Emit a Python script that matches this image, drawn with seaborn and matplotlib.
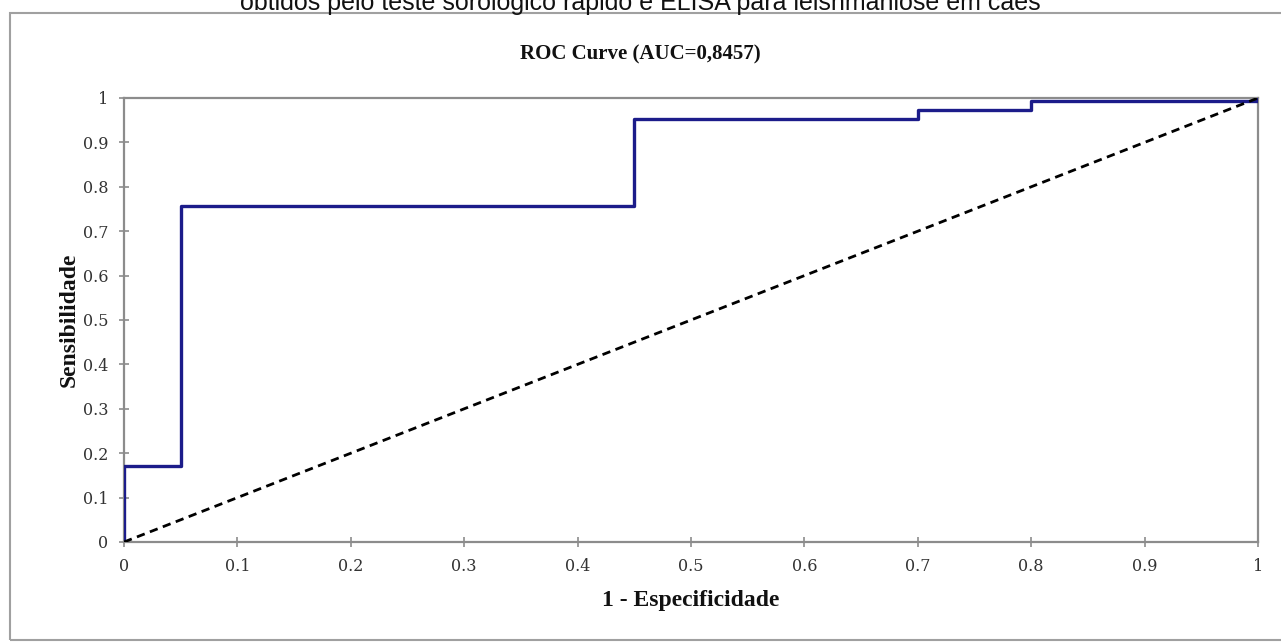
import matplotlib
matplotlib.use("Agg")
import matplotlib.pyplot as plt
import seaborn as sns
import pandas as pd
from matplotlib.patches import Rectangle

# ROC staircase
fpr = [0, 0, 0.05, 0.05, 0.45, 0.45, 0.70, 0.70, 0.80, 0.80, 1.0, 1.0]
tpr = [0, 0.171, 0.171, 0.756, 0.756, 0.953, 0.953, 0.974, 0.974, 0.994, 0.994, 1.0]
diag_x = [0, 1]
diag_y = [0, 1]
ticks = [0, 0.1, 0.2, 0.3, 0.4, 0.5, 0.6, 0.7, 0.8, 0.9, 1]
tick_labels = ["0", "0.1", "0.2", "0.3", "0.4", "0.5", "0.6", "0.7", "0.8", "0.9", "1"]

title = "ROC Curve (AUC=0,8457)"
caption = "obtidos pelo teste sorológico rápido e ELISA para leishmaniose em cães"

sns.set_style("white")
serif = ["Liberation Serif", "DejaVu Serif"]

W, H = 1281, 642
fig = plt.figure(figsize=(W / 100, H / 100), dpi=100)

# outer chart frame
fig.patches.append(Rectangle((10 / W, 2 / H), 1.2, (H - 13 - 2) / H, transform=fig.transFigure,
                             fill=False, edgecolor="#a0a0a0", linewidth=1.5, zorder=0))

# caption, cut off at the very top as in the source
fig.text(0.5, 1 - 10 / H, caption, ha="center", va="baseline", fontsize=18,
         family=["Liberation Sans", "DejaVu Sans"], color="#111111")

fig.text(0.5, 1 - 54 / H, title, ha="center", va="center", fontsize=15,
         fontweight="bold", family=serif, color="#111111")

ax = fig.add_axes([124 / W, 100 / H, 1134 / W, 444 / H])

df = pd.DataFrame({"fpr": fpr, "tpr": tpr})
sns.lineplot(data=df, x="fpr", y="tpr", sort=False, estimator=None, ax=ax,
             color="#1c1c8a", linewidth=2.4, zorder=3)
sns.lineplot(x=diag_x, y=diag_y, ax=ax, color="black", linewidth=2.0,
             linestyle=(0, (3, 2)), zorder=4)

ax.set_xlim(0, 1)
ax.set_ylim(0, 1)
ax.set_xticks(ticks)
ax.set_xticklabels(tick_labels)
ax.set_yticks(ticks)
ax.set_yticklabels(tick_labels)

for s in ax.spines.values():
    s.set_color("#8c8c8c")
    s.set_linewidth(1.6)

ax.tick_params(axis="both", direction="inout", length=7, width=1.2, color="#8c8c8c",
               bottom=True, left=True, labelsize=11.5, labelcolor="#333333", pad=8)
for lab in ax.get_xticklabels() + ax.get_yticklabels():
    lab.set_family(["DejaVu Serif"])

ax.set_xlabel("1 - Especificidade", fontsize=17, fontweight="bold", family=serif,
              labelpad=11, color="#111111")
ax.set_ylabel("Sensibilidade", fontsize=17, fontweight="bold", family=serif,
              labelpad=2, color="#111111")

fig.savefig("out.png", dpi=100)
